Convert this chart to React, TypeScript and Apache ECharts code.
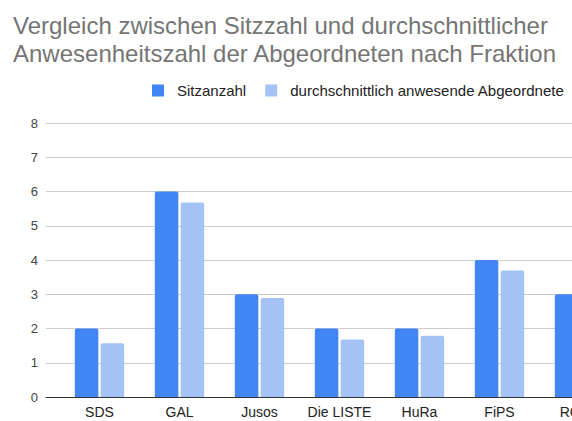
import React, { useEffect, useRef } from "react";
import * as echarts from "echarts";

const categories = ["SDS", "GAL", "Jusos", "Die LISTE", "HuRa", "FiPS", "RCDS"];
const sitzanzahl = [2, 6, 3, 2, 2, 4, 3];
const anwesend = [1.57, 5.68, 2.89, 1.68, 1.79, 3.69, 2.7];
const yTicks = { min: 0, max: 8, interval: 1 };
const seriesNames = ["Sitzanzahl", "durchschnittlich anwesende Abgeordnete"];
const titleText = "Vergleich zwischen Sitzzahl und durchschnittlicher\nAnwesenheitszahl der Abgeordneten nach Fraktion";

const FONT = "'Liberation Sans', Arial, sans-serif";

export default function App() {
  const ref = useRef<HTMLDivElement>(null);
  useEffect(() => {
    if (!ref.current) return;
    const chart = echarts.init(ref.current, undefined, { renderer: "svg" });
    chart.setOption({
      animation: false,
      backgroundColor: "#ffffff",
      textStyle: { fontFamily: FONT },
      title: {
        text: titleText,
        left: 8,
        top: 6,
        textStyle: { fontSize: 24, fontWeight: "normal", color: "#757575", lineHeight: 28, fontFamily: FONT },
      },
      legend: {
        left: 152,
        top: 83,
        padding: 0,
        itemWidth: 12,
        itemHeight: 12,
        itemGap: 19,
        icon: "rect",
        data: seriesNames,
        textStyle: { fontSize: 15, color: "#222222", fontFamily: FONT, padding: [0, 0, 0, 8] },
      },
      grid: [
        { left: 46, right: 47, top: 123, bottom: 24 },
        { left: 59.5, right: 60.5, top: 123, bottom: 24 },
      ],
      xAxis: [
        {
          type: "category",
          gridIndex: 0,
          data: categories,
          axisLine: { show: true, lineStyle: { color: "#333333", width: 1 } },
          axisTick: { show: false },
          axisLabel: { show: false },
          splitLine: { show: false },
        },
        {
          type: "category",
          gridIndex: 1,
          data: categories,
          axisLine: { show: false },
          axisTick: { show: false },
          axisLabel: { fontSize: 14, color: "#222222", margin: 8, fontFamily: FONT, interval: 0 },
          splitLine: { show: false },
        },
      ],
      yAxis: [
        {
          type: "value",
          gridIndex: 0,
          min: yTicks.min,
          max: yTicks.max,
          interval: yTicks.interval,
          axisLine: { show: false },
          axisTick: { show: false },
          axisLabel: { fontSize: 13, color: "#444444", margin: 8, fontFamily: FONT },
          splitLine: { show: true, lineStyle: { color: "#cccccc", width: 1 } },
        },
        {
          type: "value",
          gridIndex: 1,
          min: yTicks.min,
          max: yTicks.max,
          interval: yTicks.interval,
          axisLine: { show: false },
          axisTick: { show: false },
          axisLabel: { show: false },
          splitLine: { show: false },
        },
      ],
      series: [
        {
          name: seriesNames[0],
          type: "bar",
          xAxisIndex: 1,
          yAxisIndex: 1,
          data: sitzanzahl,
          barWidth: 23.5,
          barGap: "10%",
          itemStyle: { color: "#4285f4", borderRadius: [2, 2, 0, 0] },
        },
        {
          name: seriesNames[1],
          type: "bar",
          xAxisIndex: 1,
          yAxisIndex: 1,
          data: anwesend,
          barWidth: 23.5,
          barGap: "10%",
          itemStyle: { color: "#a4c2f4", borderRadius: [2, 2, 0, 0] },
        },
      ],
    });
    return () => chart.dispose();
  }, []);
  return (
    <div style={{ position: "fixed", left: 0, top: 0, width: 572, height: 421, overflow: "hidden", background: "#fff" }}>
      <div ref={ref} style={{ width: 680, height: 421 }} />
    </div>
  );
}
